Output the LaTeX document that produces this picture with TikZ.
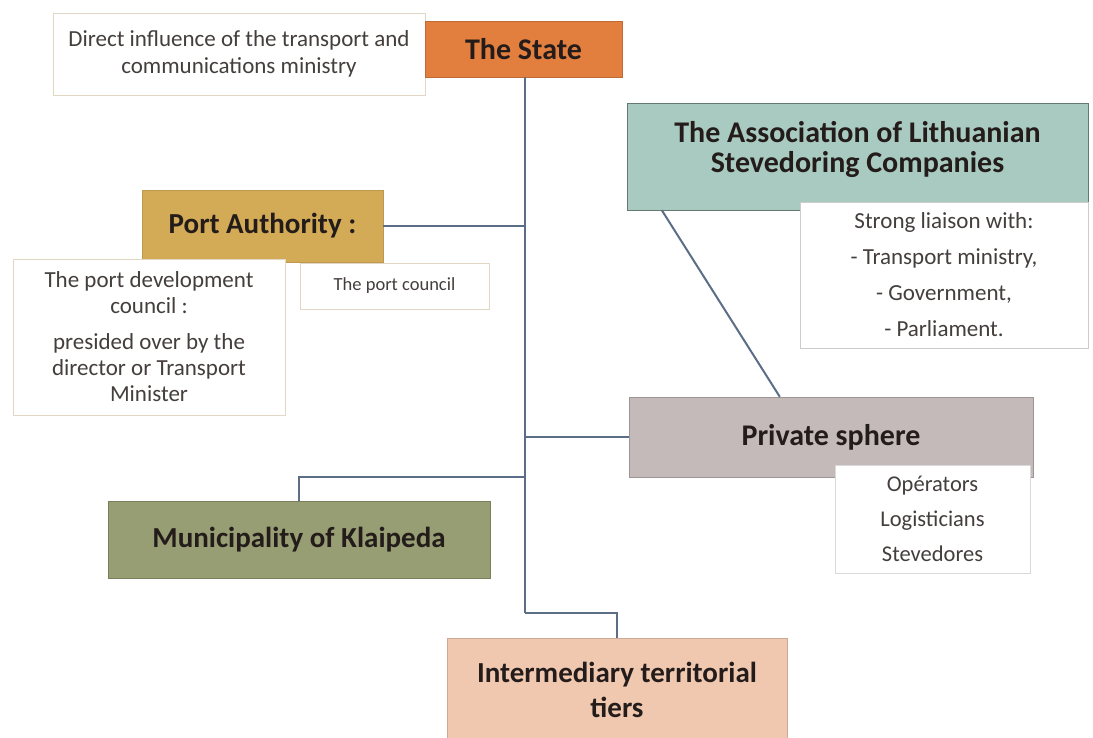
\documentclass[tikz,border=0pt]{standalone}
\usepackage{fontspec}
\setmainfont{Carlito}
\usetikzlibrary{positioning,calc}

\definecolor{stateorange}{RGB}{226,126,62}
\definecolor{portgold}{RGB}{211,170,86}
\definecolor{assocteal}{RGB}{168,202,192}
\definecolor{privgrey}{RGB}{196,186,185}
\definecolor{municolive}{RGB}{152,158,115}
\definecolor{intpeach}{RGB}{240,200,176}
\definecolor{notebrd}{RGB}{226,214,196}
\definecolor{linkblue}{RGB}{92,110,134}
\definecolor{txtdark}{RGB}{35,28,26}

\tikzstyle{block} = [draw, rectangle, inner sep=0pt, align=center, text=txtdark, font=\fontsize{29}{35}\selectfont\bfseries]
\tikzstyle{note} = [draw=notebrd, fill=white, rectangle, inner sep=0pt, align=center, text=txtdark!85, line width=0.8pt]
\tikzstyle{link} = [draw=linkblue, line width=2pt]

\begin{document}
\begin{tikzpicture}[x=1pt, y=-1pt]
		\clip (0,0) rectangle (1093,737);
		\fill[white] (0,0) rectangle (1093,737);
		
		% The State
		\node[note, minimum width=372pt, minimum height=82pt, font=\fontsize{23}{27}\selectfont] (infl) at (239,54)
		{Direct influence of the transport and\\ communications ministry};
		\node[block, fill=stateorange, draw=stateorange!85!black, minimum width=197pt, minimum height=56pt, font=\fontsize{30}{35}\selectfont\bfseries] (state) at (523.5,49)
		{The State};
		
		% Association
		\node[block, fill=assocteal, draw=assocteal!60!black, minimum width=461pt, minimum height=107pt] (assoc) at (857.5,156.5) {};
		\node[align=center, text=txtdark, font=\fontsize{30}{30}\selectfont\bfseries] (assoctext) at ($(assoc.center)+(0,-7)$)
		{The Association of Lithuanian\\ Stevedoring Companies};
		\node[note, draw=black!20, minimum width=288pt, minimum height=146pt, font=\fontsize{23}{36}\selectfont] (liaison) at (944,275)
		{Strong liaison with:\\ - Transport ministry,\\ - Government,\\ - Parliament.};
		
		% Port Authority
		\node[note, minimum width=189pt, minimum height=46pt, font=\fontsize{18.5}{22}\selectfont] (portcouncil) at (394.5,286)
		{The port council};
		\node[block, fill=portgold, draw=portgold!90!black, minimum width=241pt, minimum height=72pt] (portauth) at (262.5,226)
		{Port Authority :};
		\node[note, minimum width=272pt, minimum height=156pt, font=\fontsize{23}{26}\selectfont] (devcouncil) at (149,337)
		{The port development\\ council :\\[10pt] presided over by the\\ director or Transport\\ Minister};
		
		% Private sphere
		\node[block, fill=privgrey, draw=privgrey!80!black, minimum width=404pt, minimum height=80pt, font=\fontsize{30}{35}\selectfont\bfseries] (private) at (831,437)
		{Private sphere};
		\node[note, draw=black!15, minimum width=195pt, minimum height=108pt, font=\fontsize{22.5}{35}\selectfont] (opers) at (932.5,519)
		{Opérators\\ Logisticians\\ Stevedores};
		
		% Municipality
		\node[block, fill=municolive, draw=municolive!80!black, minimum width=382pt, minimum height=77pt] (munic) at (299,539.5)
		{Municipality of Klaipeda};
		
		% Intermediary tiers
		\node[block, fill=intpeach, draw=intpeach!85!black, minimum width=340pt, minimum height=104pt] (interm) at (617,690)
		{Intermediary territorial\\ tiers};
		
		% Connectors
		\coordinate (t1) at (524.5,77);
		\coordinate (t2) at (524.5,613);
		\coordinate (tm) at (524.5,477);
		\draw[link] (t1) -- (t2);
		\draw[link] (portauth.east) -- (portauth.east -| t1);
		\draw[link] (private.west) -- (private.west -| t1);
		\draw[link] (tm) -- (munic.north |- tm) -- (munic.north);
		\draw[link] (t2) -- (interm.north |- t2) -- (interm.north);
		\draw[link] ($(assoc.south west) + (35,0)$) -- ($(private.north west) + (151,0)$);
		
	\end{tikzpicture}
\end{document}
